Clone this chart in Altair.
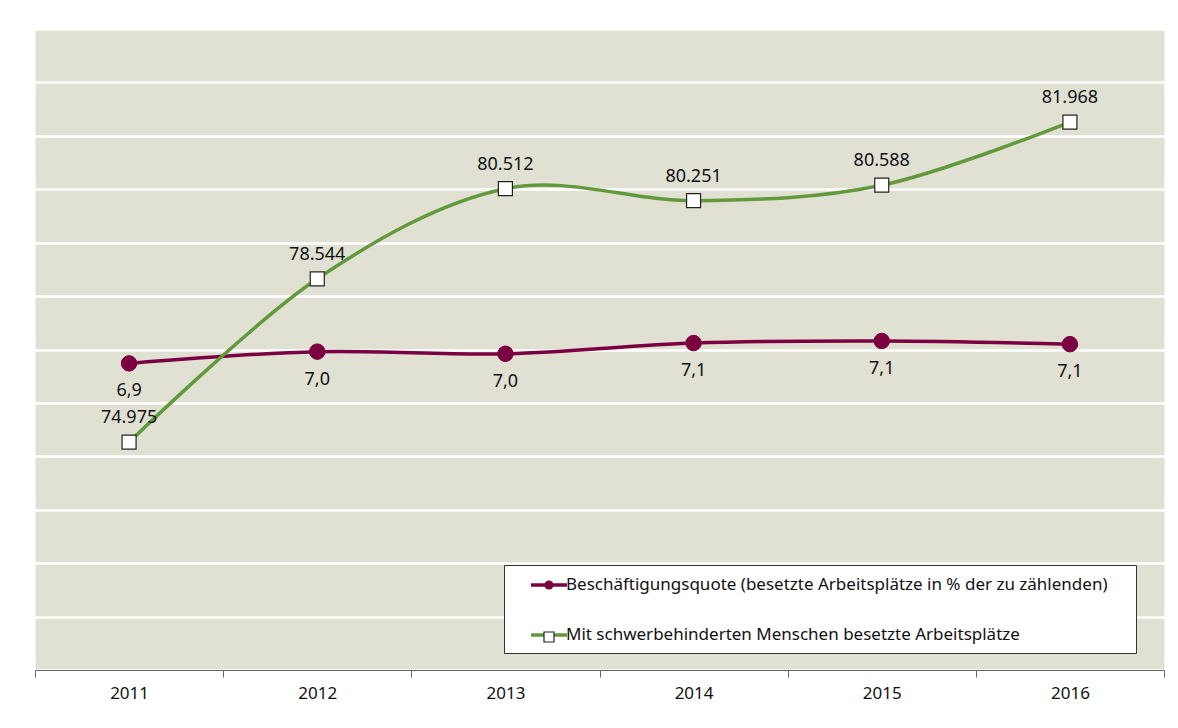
import altair as alt
import pandas as pd

# ---- data ----
jahre = ["2011", "2012", "2013", "2014", "2015", "2016"]
quote = [6.87, 6.98, 6.96, 7.06, 7.08, 7.05]
quote_labels = ["6,9", "7,0", "7,0", "7,1", "7,1", "7,1"]
plaetze = [74975, 78544, 80512, 80251, 80588, 81968]
plaetze_labels = ["74.975", "78.544", "80.512", "80.251", "80.588", "81.968"]
serien = [
    "Beschäftigungsquote (besetzte Arbeitsplätze in % der zu zählenden)",
    "Mit schwerbehinderten Menschen besetzte Arbeitsplätze",
]

PURPLE = "#7b0041"
GREEN = "#62993c"
FONT = "Noto Sans"
TXT = "#111111"

df_q = pd.DataFrame({"Jahr": jahre, "Wert": quote, "Label": quote_labels,
                     "Reihe": serien[0], "Marker": serien[0]})
df_p = pd.DataFrame({"Jahr": jahre, "Wert": plaetze, "Label": plaetze_labels,
                     "Reihe": serien[1], "Marker": serien[1]})

x_enc = alt.X(
    "Jahr:O", sort=jahre, title=None,
    scale=alt.Scale(type="band", paddingInner=0, paddingOuter=0),
    axis=alt.Axis(labelAngle=0, tickBand="extent", tickExtra=True, ticks=True,
                  tickSize=7, tickColor="#666666", domainColor="#666666",
                  labelFont=FONT, labelFontSize=17, labelColor=TXT,
                  labelPadding=8, grid=False),
)

# legend with the line symbols, the labels and the white box
color_enc = alt.Color(
    "Reihe:N",
    scale=alt.Scale(domain=serien, range=[PURPLE, GREEN]),
    legend=alt.Legend(
        title=" ", titleOrient="right", titlePadding=19, titleFontSize=1,
        orient="none", legendX=469, legendY=536, padding=10,
        symbolType="M0.875,0H5.375", symbolSize=256, symbolStrokeWidth=3.5,
        labelOffset=32, rowPadding=32, labelFont=FONT, labelFontSize=17,
        labelColor=TXT, labelLimit=0, direction="vertical",
        fillColor="white", strokeColor="#333333", zindex=1,
    ),
)

# single-entry legends that only draw the markers on top of the line symbols
shape_q = alt.Shape(
    "Marker:N", title=None,
    scale=alt.Scale(domain=[serien[0]], range=["circle"]),
    legend=alt.Legend(orient="none", legendX=508.5, legendY=550.5, padding=0,
                      symbolType="circle", symbolSize=81, symbolStrokeWidth=1.2,
                      symbolFillColor=PURPLE, symbolStrokeColor=PURPLE,
                      symbolOpacity=1, labelExpr="''", labelFontSize=8, zindex=2),
)
stroke_p = alt.Stroke(
    "Marker:N", title=None,
    scale=alt.Scale(domain=[serien[1]], range=["#222222"]),
    legend=alt.Legend(orient="none", legendX=508, legendY=602, padding=0,
                      symbolType="square", symbolSize=100, symbolStrokeWidth=1.2,
                      symbolFillColor="white", symbolOpacity=1,
                      labelExpr="''", labelFontSize=8, zindex=2),
)

y_q = alt.Y("Wert:Q", title=None,
            scale=alt.Scale(domain=[4, 10], nice=False, zero=False),
            axis=alt.Axis(values=[4 + 0.5 * i for i in range(13)], grid=True,
                          gridColor="white", gridWidth=2.5, labels=False,
                          ticks=False, domain=False))
y_p = alt.Y("Wert:Q", title=None,
            scale=alt.Scale(domain=[70000, 84000], nice=False, zero=False),
            axis=None)

base_q = alt.Chart(df_q)
purple = alt.layer(
    base_q.mark_line(interpolate="cardinal", strokeWidth=3.5).encode(x=x_enc, y=y_q, color=color_enc),
    base_q.mark_point(filled=True, size=240, fill=PURPLE, stroke=PURPLE,
                      strokeWidth=1, opacity=1).encode(x=x_enc, y=y_q, shape=shape_q),
    base_q.mark_text(dy=28, font=FONT, fontSize=18, color=TXT).encode(x=x_enc, y=y_q, text="Label:N"),
)

base_p = alt.Chart(df_p)
green = alt.layer(
    base_p.mark_line(interpolate="cardinal", strokeWidth=3.5).encode(x=x_enc, y=y_p, color=color_enc),
    base_p.mark_point(filled=True, shape="square", size=196, fill="white",
                      strokeWidth=1.2, opacity=1).encode(x=x_enc, y=y_p, stroke=stroke_p),
    base_p.mark_text(dy=-24, font=FONT, fontSize=18, color=TXT).encode(x=x_enc, y=y_p, text="Label:N"),
)

chart = (
    alt.layer(purple, green)
    .resolve_scale(y="independent", shape="independent", stroke="independent")
    .resolve_legend(shape="independent", stroke="independent")
    .properties(width=1129, height=641,
                padding={"left": 27, "top": 21, "right": 6, "bottom": 40},
                autosize=alt.AutoSizeParams(type="none"),
                view=alt.ViewBackground(fill="#e0e1d3", stroke="transparent"))
    .configure(background="white")
    .configure_view(fill="#e0e1d3", stroke="transparent")
)

chart.save("out.html", embed_options={"renderer": "svg", "actions": False})
